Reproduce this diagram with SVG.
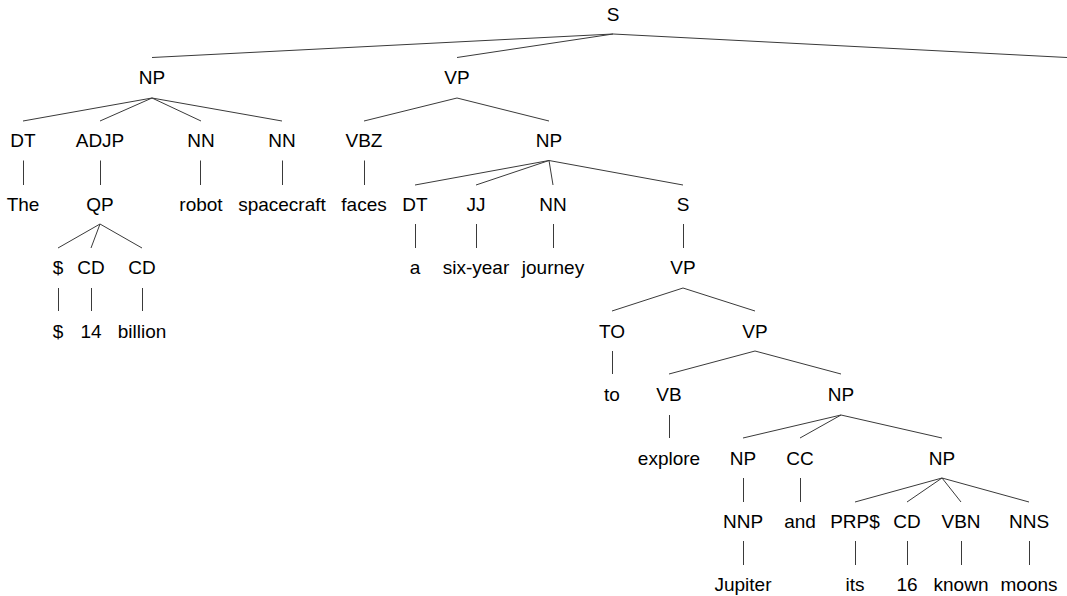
<svg xmlns="http://www.w3.org/2000/svg" width="1067" height="596" viewBox="0 0 1067 596">
  <style>
    text { font-family: "Liberation Sans", Arial, sans-serif; font-size: 19px; fill: #000; text-anchor: middle; }
    #edges line { stroke: #3a3a3a; stroke-width: 1; }
  </style>
  <rect width="1067" height="596" fill="#fff"/>

  <!-- parse tree edges -->
  <g id="edges">
    <!-- S -->
    <line x1="613" y1="34" x2="152" y2="57.5"/>
    <line x1="613" y1="34" x2="457" y2="57.5"/>
    <line x1="613" y1="34" x2="1067" y2="57.5"/>
    <!-- NP -->
    <line x1="152" y1="98" x2="23" y2="121"/>
    <line x1="152" y1="98" x2="100" y2="121"/>
    <line x1="152" y1="98" x2="201" y2="121"/>
    <line x1="152" y1="98" x2="282" y2="121"/>
    <!-- VP -->
    <line x1="457" y1="98" x2="364" y2="121"/>
    <line x1="457" y1="98" x2="549" y2="121"/>
    <!-- level 2 to 3 -->
    <line x1="23.5" y1="160.5" x2="23.5" y2="185"/>
    <line x1="100.5" y1="160.5" x2="100.5" y2="185"/>
    <line x1="200.5" y1="160.5" x2="200.5" y2="185"/>
    <line x1="282.5" y1="160.5" x2="282.5" y2="185"/>
    <line x1="364.5" y1="160.5" x2="364.5" y2="185"/>
    <line x1="549" y1="160.5" x2="415" y2="185"/>
    <line x1="549" y1="160.5" x2="476" y2="185"/>
    <line x1="549" y1="160.5" x2="553" y2="185"/>
    <line x1="549" y1="160.5" x2="683" y2="185"/>
    <!-- level 3 to 4 -->
    <line x1="100" y1="224" x2="58" y2="248"/>
    <line x1="100" y1="224" x2="91" y2="248"/>
    <line x1="100" y1="224" x2="142" y2="248"/>
    <line x1="415.5" y1="224" x2="415.5" y2="248"/>
    <line x1="476.5" y1="224" x2="476.5" y2="248"/>
    <line x1="553.5" y1="224" x2="553.5" y2="248"/>
    <line x1="683.5" y1="224" x2="683.5" y2="248"/>
    <!-- level 4 to 5 -->
    <line x1="58.5" y1="288" x2="58.5" y2="311"/>
    <line x1="91.5" y1="288" x2="91.5" y2="311"/>
    <line x1="142.5" y1="288" x2="142.5" y2="311"/>
    <line x1="683" y1="288" x2="612" y2="311"/>
    <line x1="683" y1="288" x2="755" y2="311"/>
    <!-- level 5 to 6 -->
    <line x1="612.5" y1="351" x2="612.5" y2="374"/>
    <line x1="755" y1="351" x2="669" y2="374"/>
    <line x1="755" y1="351" x2="841" y2="374"/>
    <!-- level 6 to 7 -->
    <line x1="669.5" y1="415" x2="669.5" y2="438"/>
    <line x1="841" y1="415" x2="743" y2="438"/>
    <line x1="841" y1="415" x2="800" y2="438"/>
    <line x1="841" y1="415" x2="942" y2="438"/>
    <!-- level 7 to 8 -->
    <line x1="743.5" y1="478" x2="743.5" y2="502"/>
    <line x1="800.5" y1="478" x2="800.5" y2="502"/>
    <line x1="942" y1="478" x2="855" y2="502"/>
    <line x1="942" y1="478" x2="907" y2="502"/>
    <line x1="942" y1="478" x2="961" y2="502"/>
    <line x1="942" y1="478" x2="1029" y2="502"/>
    <!-- level 8 to 9 -->
    <line x1="743.5" y1="541" x2="743.5" y2="565"/>
    <line x1="855.5" y1="541" x2="855.5" y2="565"/>
    <line x1="907.5" y1="541" x2="907.5" y2="565"/>
    <line x1="961.5" y1="541" x2="961.5" y2="565"/>
    <line x1="1029.5" y1="541" x2="1029.5" y2="565"/>
  </g>

  <!-- level 0 -->
  <g id="n-S"><text x="613" y="21">S</text></g>
  <!-- level 1 -->
  <g id="n-NP-subj"><text x="152" y="84">NP</text></g>
  <g id="n-VP-main"><text x="457" y="84">VP</text></g>
  <!-- level 2 -->
  <g id="n-DT-1"><text x="23" y="147">DT</text></g>
  <g id="n-ADJP"><text x="100" y="147">ADJP</text></g>
  <g id="n-NN-1"><text x="201" y="147">NN</text></g>
  <g id="n-NN-2"><text x="282" y="147">NN</text></g>
  <g id="n-VBZ"><text x="364" y="147">VBZ</text></g>
  <g id="n-NP-obj"><text x="549" y="147">NP</text></g>
  <!-- level 3 -->
  <g id="w-The"><text x="23" y="211">The</text></g>
  <g id="n-QP"><text x="100" y="211">QP</text></g>
  <g id="w-robot"><text x="201" y="211">robot</text></g>
  <g id="w-spacecraft"><text x="282" y="211">spacecraft</text></g>
  <g id="w-faces"><text x="364" y="211">faces</text></g>
  <g id="n-DT-2"><text x="415" y="211">DT</text></g>
  <g id="n-JJ"><text x="476" y="211">JJ</text></g>
  <g id="n-NN-3"><text x="553" y="211">NN</text></g>
  <g id="n-S-inner"><text x="683" y="211">S</text></g>
  <!-- level 4 -->
  <g id="n-DOLLAR"><text x="58" y="274">$</text></g>
  <g id="n-CD-1"><text x="91" y="274">CD</text></g>
  <g id="n-CD-2"><text x="142" y="274">CD</text></g>
  <g id="w-a"><text x="415" y="274">a</text></g>
  <g id="w-six-year"><text x="476" y="274">six-year</text></g>
  <g id="w-journey"><text x="553" y="274">journey</text></g>
  <g id="n-VP-inf"><text x="683" y="274">VP</text></g>
  <!-- level 5 -->
  <g id="w-dollar"><text x="58" y="338">$</text></g>
  <g id="w-14"><text x="91" y="338">14</text></g>
  <g id="w-billion"><text x="142" y="338">billion</text></g>
  <g id="n-TO"><text x="612" y="338">TO</text></g>
  <g id="n-VP-verb"><text x="755" y="338">VP</text></g>
  <!-- level 6 -->
  <g id="w-to"><text x="612" y="401">to</text></g>
  <g id="n-VB"><text x="669" y="401">VB</text></g>
  <g id="n-NP-coord"><text x="841" y="401">NP</text></g>
  <!-- level 7 -->
  <g id="w-explore"><text x="669" y="465">explore</text></g>
  <g id="n-NP-jupiter"><text x="743" y="465">NP</text></g>
  <g id="n-CC"><text x="800" y="465">CC</text></g>
  <g id="n-NP-moons"><text x="942" y="465">NP</text></g>
  <!-- level 8 -->
  <g id="n-NNP"><text x="743" y="528">NNP</text></g>
  <g id="w-and"><text x="800" y="528">and</text></g>
  <g id="n-PRPS"><text x="855" y="528">PRP$</text></g>
  <g id="n-CD-3"><text x="907" y="528">CD</text></g>
  <g id="n-VBN"><text x="961" y="528">VBN</text></g>
  <g id="n-NNS"><text x="1029" y="528">NNS</text></g>
  <!-- level 9 -->
  <g id="w-Jupiter"><text x="743" y="591">Jupiter</text></g>
  <g id="w-its"><text x="855" y="591">its</text></g>
  <g id="w-16"><text x="907" y="591">16</text></g>
  <g id="w-known"><text x="961" y="591">known</text></g>
  <g id="w-moons"><text x="1029" y="591">moons</text></g>
</svg>
